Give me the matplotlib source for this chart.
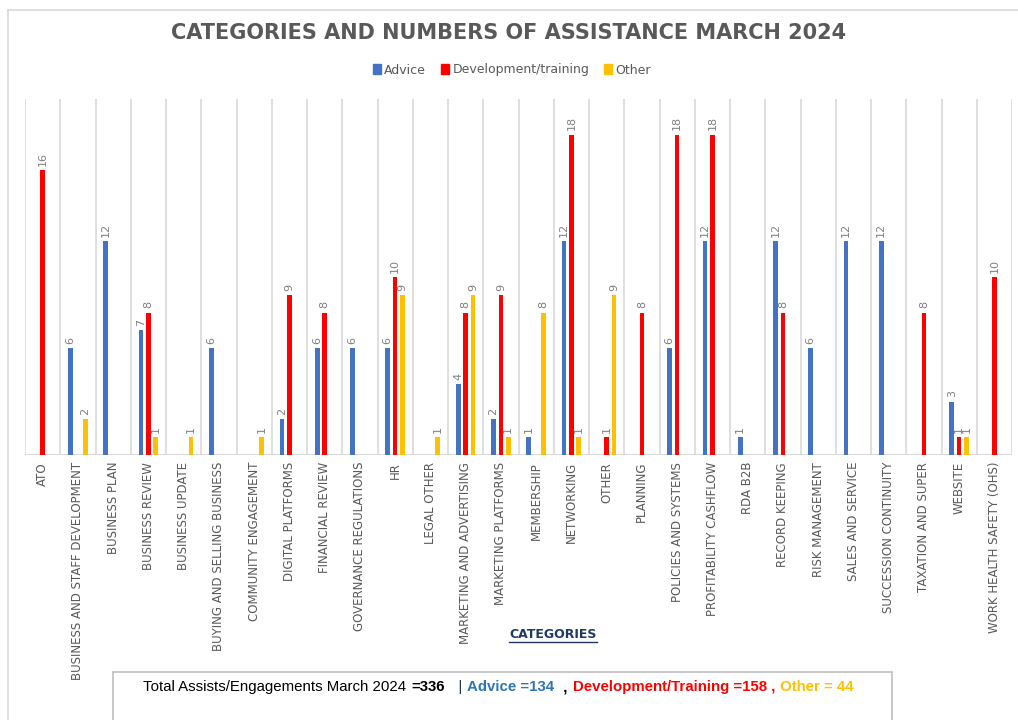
import matplotlib
matplotlib.use('Agg')
import matplotlib.pyplot as plt
import numpy as np
from matplotlib.lines import Line2D
from matplotlib.patches import Rectangle

categories = [
    'ATO', 'BUSINESS AND STAFF DEVELOPMENT', 'BUSINESS PLAN', 'BUSINESS REVIEW',
    'BUSINESS UPDATE', 'BUYING AND SELLING BUSINESS', 'COMMUNITY ENGAGEMENT',
    'DIGITAL PLATFORMS', 'FINANCIAL REVIEW', 'GOVERNANCE REGULATIONS', 'HR',
    'LEGAL OTHER', 'MARKETING AND ADVERTISING', 'MARKETING PLATFORMS',
    'MEMBERSHIP', 'NETWORKING', 'OTHER', 'PLANNING', 'POLICIES AND SYSTEMS',
    'PROFITABILITY CASHFLOW', 'RDA B2B', 'RECORD KEEPING', 'RISK MANAGEMENT',
    'SALES AND SERVICE', 'SUCCESSION CONTINUITY', 'TAXATION AND SUPER',
    'WEBSITE', 'WORK HEALTH SAFETY (OHS)',
]
advice = [0, 6, 12, 7, 0, 6, 0, 2, 6, 6, 6, 0, 4, 2, 1, 12, 0, 0, 6, 12, 1, 12, 6, 12, 12, 0, 3, 0]
development = [16, 0, 0, 8, 0, 0, 0, 9, 8, 0, 10, 0, 8, 9, 0, 18, 1, 8, 18, 18, 0, 8, 0, 0, 0, 8, 1, 10]
other = [0, 2, 0, 1, 1, 0, 1, 0, 0, 0, 9, 1, 9, 1, 8, 1, 9, 0, 0, 0, 0, 0, 0, 0, 0, 0, 1, 0]
series_names = ['Advice', 'Development/training', 'Other']
colors = ['#4472C4', '#FF0000', '#FFC000']

W, H = 1018, 720
fig = plt.figure(figsize=(W / 100, H / 100), dpi=100)
fig.patch.set_facecolor('white')

# outer chart border (left + top visible)
fig.add_artist(Line2D([8 / W, 8 / W], [0, 1 - 10 / H], color='#d9d9d9', lw=1.2))
fig.add_artist(Line2D([8 / W, 1], [1 - 10 / H, 1 - 10 / H], color='#d9d9d9', lw=1.2))

ax = fig.add_axes([25 / W, 1 - 455 / H, (1012 - 25) / W, (455 - 99) / H])
x = np.arange(len(categories))
ax.set_xlim(-0.5, len(categories) - 0.5)
ax.set_ylim(0, 20)
for s in ax.spines.values():
    s.set_visible(False)
ax.set_yticks([])
ax.vlines(np.arange(len(categories) + 1) - 0.5, 0, 20, color='#d9d9d9', lw=1.2, zorder=0)
ax.axhline(0, color='#d9d9d9', lw=1.5, zorder=1)

bar_w = 0.13
offsets = [-0.21, 0.0, 0.21]
for vals, off, col, name in zip([advice, development, other], offsets, colors, series_names):
    vals = np.array(vals)
    mask = vals > 0
    ax.bar(x[mask] + off, vals[mask], width=bar_w, color=col, label=name, zorder=2)
    for xi, v in zip(x[mask] + off, vals[mask]):
        ax.annotate(str(v), (xi, v), xytext=(0, 3), textcoords='offset points',
                    rotation=90, ha='center', va='bottom', fontsize=8, color='#808080')

ax.set_xticks(x)
ax.set_xticklabels(categories, rotation=90, fontsize=8.5, color='#595959', va='top')
ax.tick_params(axis='x', length=0, pad=5)

fig.text(0.5, 1 - 33 / H, 'CATEGORIES AND NUMBERS OF ASSISTANCE MARCH 2024',
         ha='center', va='center', fontsize=15, fontweight='bold', color='#595959')

handles = [Rectangle((0, 0), 1, 1, color=c) for c in colors]
fig.legend(handles, series_names, loc='center', bbox_to_anchor=(512 / W, 1 - 70 / H),
           ncol=3, frameon=False, fontsize=9, handlelength=0.6, handleheight=0.8,
           handletextpad=0.3, columnspacing=1.2, labelcolor='#595959')

cat_txt = fig.text(553 / W, 1 - 634 / H, 'CATEGORIES', ha='center', va='center',
                   fontsize=9, fontweight='bold', color='#1F3864')

# summary box at the bottom
fig.add_artist(Rectangle((113 / W, -0.05), (892 - 113) / W, 0.05 + 1 - 672 / H,
                         transform=fig.transFigure, fill=False, edgecolor='#bfbfbf', lw=1.2))

fig.canvas.draw()
renderer = fig.canvas.get_renderer()

bb = cat_txt.get_window_extent(renderer)
fig.add_artist(Line2D([bb.x0 / W, bb.x1 / W], [(bb.y0 - 1) / H, (bb.y0 - 1) / H],
                      color='#1F3864', lw=1))

pieces = [
    ('Total Assists/Engagements March 2024 ', 'normal', 'black'),
    ('=336', 'bold', 'black'),
    ('   | ', 'normal', '#1F3864'),
    ('Advice =134', 'bold', '#2E75B6'),
    ('  , ', 'bold', 'black'),
    ('Development/Training =158 ,', 'bold', '#FF0000'),
    (' Other = 44', 'bold', '#FFC000'),
]
xpos = 143
for txt, weight, col in pieces:
    t = fig.text(xpos / W, 1 - 687 / H, txt, ha='left', va='center', fontsize=10.8,
                 fontweight=weight, color=col, family='Liberation Sans')
    xpos = t.get_window_extent(renderer).x1 + 1

fig.savefig('out.png', dpi=100, facecolor='white')
